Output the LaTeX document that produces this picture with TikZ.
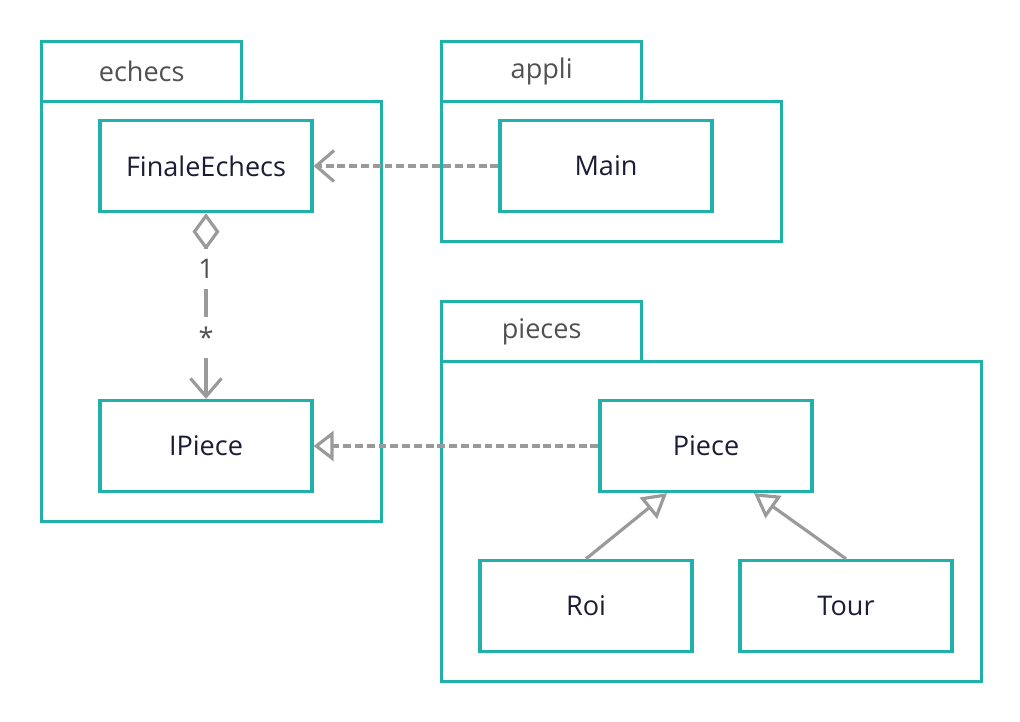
\documentclass[tikz,border=0pt]{standalone}
\usepackage{fontspec}
\setmainfont{Open Sans}
\usetikzlibrary{arrows.meta,positioning}
\definecolor{teal}{HTML}{22B1AA}
\definecolor{conn}{HTML}{9A9A9A}
\definecolor{ink}{HTML}{1C1C36}
\definecolor{muted}{HTML}{505050}

\tikzset{
  classbox/.style={draw=teal,line width=1.9pt,minimum width=4.24cm,minimum height=1.82cm,
    text=ink,font=\fontsize{15.4}{18}\selectfont},
  pkgtab/.style={draw=teal,line width=1.9pt,anchor=north west,minimum width=4cm,minimum height=1.2cm,
    text=muted,font=\fontsize{15.4}{18}\selectfont},
  pkgbody/.style={draw=teal,line width=1.9pt,anchor=north west,inner sep=0pt},
  depline/.style={draw=conn,line width=1.8pt,dash pattern=on 4.5pt off 2.2pt},
  mult/.style={fill=white,text=muted,inner sep=0.2cm,font=\fontsize{15.4}{18}\selectfont}
}

\begin{document}
\begin{tikzpicture}[x=0.02cm,y=-0.02cm]
  \useasboundingbox (0,0) rectangle (1020,721);

  % packages
  \node[pkgbody,minimum width=6.8cm,minimum height=8.4cm] (echecsbody) at (40,100) {};
  \node[pkgtab] (echecstab) at (40,40) {echecs};
  \node[pkgbody,minimum width=6.8cm,minimum height=2.8cm] (applibody) at (440,100) {};
  \node[pkgtab] (applitab) at (440,40) {appli};
  \node[pkgbody,minimum width=10.8cm,minimum height=6.4cm] (piecesbody) at (440,360) {};
  \node[pkgtab] (piecestab) at (440,300) {pieces};

  % classes
  \node[classbox] (finale) at (206,166) {FinaleEchecs};
  \node[classbox] (ipiece) at (206,446) {IPiece};
  \node[classbox] (main) at (606,166) {Main};
  \node[classbox] (piece) at (706,446) {Piece};
  \node[classbox] (roi) at (586,606) {Roi};
  \node[classbox] (tour) at (846,606) {Tour};

  % relations
  \draw[depline,-{Straight Barb[length=3.6mm,width=6.2mm,line width=1.8pt]}] (main) -- (finale);
  \draw[depline,-{Triangle[open,fill=white,length=4mm,width=6mm,line width=1.8pt]}] (piece) -- (ipiece);
  \draw[draw=conn,line width=1.8pt,{Diamond[open,fill=white,length=7.4mm,width=5.4mm,line width=1.8pt]}-{Straight Barb[length=3.6mm,width=6.2mm,line width=1.8pt]}]
    (finale) -- (ipiece)
    node[mult,pos=0.3] (one) {1}
    node[mult,pos=0.67] (many) {*};
  \draw[draw=conn,line width=1.8pt,-{Triangle[open,fill=white,length=4.8mm,width=5.4mm,line width=1.8pt]}]
    (roi.north) -- ([xshift=-0.78cm]piece.south);
  \draw[draw=conn,line width=1.8pt,-{Triangle[open,fill=white,length=4.8mm,width=5.4mm,line width=1.8pt]}]
    (tour.north) -- ([xshift=0.96cm]piece.south);
\end{tikzpicture}
\end{document}
